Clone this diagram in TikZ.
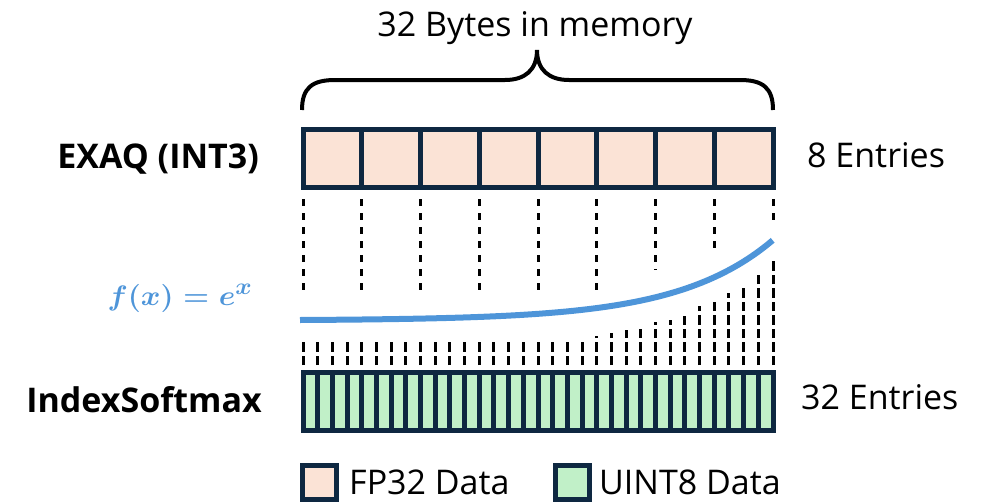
\documentclass[tikz,border=0pt]{standalone}
\usepackage{amsmath}
\usepackage[no-math]{fontspec}
\setmainfont{Open Sans}
\definecolor{peach}{HTML}{FBE3D6}
\definecolor{mint}{HTML}{C1F0C8}
\definecolor{navy}{HTML}{0E2841}
\definecolor{curveblue}{HTML}{4E95D9}
\begin{document}
\begin{tikzpicture}[x=1pt,y=-1pt,
  txt/.style={inner sep=0pt, font=\fontsize{34}{40}\selectfont},
  boldtxt/.style={inner sep=0pt, font=\fontsize{34}{40}\selectfont\bfseries},
  cellbox/.style={draw=navy, line width=5pt},
  divider/.style={navy, line width=5pt},
  bracestyle/.style={line width=4pt, line join=miter},
  topdash/.style={line width=3pt, dash pattern=on 7pt off 7pt},
  botdash/.style={line width=3pt, dash pattern=on 9.5pt off 4pt},
  expcurve/.style={curveblue, line width=6pt}
]
\useasboundingbox (0,0) rectangle (984,503);

% title and brace
\node[txt, anchor=base] (title) at (535,37) {32 Bytes in memory};
\draw[bracestyle] (302,110) .. controls (302,88) and (312,80) .. (335,80) -- (505,80)
   .. controls (525,80) and (537,70) .. (537,50)
   .. controls (537,70) and (549,80) .. (569,80) -- (740,80)
   .. controls (763,80) and (773,88) .. (773,110);

% top box (8 entries)
\draw[cellbox, fill=peach] (303,129.5) rectangle (773,187.5);
\foreach \i in {1,...,7} {
  \draw[divider] ({303+58.75*\i},129.5) -- ({303+58.75*\i},187.5);
}
\node[boldtxt, anchor=base east] (exaq) at (259,168) {EXAQ (INT3)};
\node[txt, anchor=base west] (eight) at (807,167) {8 Entries};

% top dashed lines
\foreach \i/\e in {0/290,1/290,2/290,3/290,4/290,5/290,6/270,7/250,8/222} {
  \draw[topdash] ({303+58.75*\i},199) -- ({303+58.75*\i},\e);
}

% exponential curve
\draw[expcurve] plot[domain=0:1, samples=80, smooth]
  ({300+473*\x},{320-80*(exp(5*\x)-1)/(exp(5)-1)});
\node[inner sep=0pt, text=curveblue, font=\Huge, anchor=center] (fx) at (180,298)
  {\scalebox{1.2}[1.13]{$\boldsymbol{f(x)=e^{x}}$}};

% bottom dashed lines
\foreach \j/\s in {0/342,1/342,2/342,3/342,4/342,5/342,6/342,7/342,8/342,9/342,
  10/342,11/342,12/342,13/342,14/342,15/342,16/342,17/342,18/342,19/342,
  20/336,21/333,22/330,23/328,24/322,25/320,26/316,27/306,28/299,29/293,30/285,31/272,32/258} {
  \draw[botdash] ({303+14.6875*\j},365) -- ({303+14.6875*\j},\s);
}

% bottom box (32 entries)
\draw[cellbox, fill=mint] (303,372.5) rectangle (773,430.5);
\foreach \j in {1,...,31} {
  \draw[divider] ({303+14.6875*\j},372.5) -- ({303+14.6875*\j},430.5);
}
\node[boldtxt, anchor=base east] (idx) at (262,412) {IndexSoftmax};
\node[txt, anchor=base west] (thirtytwo) at (801,409) {32 Entries};

% legend
\draw[cellbox, fill=peach] (302.5,465.5) rectangle (336.5,499.5);
\node[txt, anchor=base west] (fp) at (349,494) {FP32 Data};
\draw[cellbox, fill=mint] (555.5,465.5) rectangle (589.5,499.5);
\node[txt, anchor=base west] (u8) at (599,494) {UINT8 Data};
\end{tikzpicture}
\end{document}
